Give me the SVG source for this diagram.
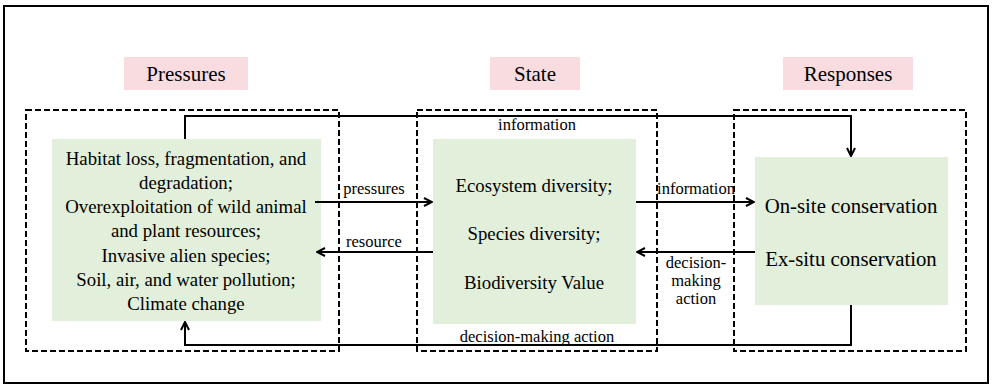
<svg xmlns="http://www.w3.org/2000/svg" width="993" height="387" viewBox="0 0 993 387">
<style>
.t{font-family:"Liberation Serif","DejaVu Serif",serif;fill:#000;text-anchor:middle}
.big{font-size:18.8px}
.lab{font-size:20.8px}
.hl{font-size:21px}
.small{font-size:16.5px}
.hdr{fill:#F8DCE0}
.green{fill:#E2EFDA}
.dash{fill:none;stroke:#000;stroke-width:2;stroke-dasharray:6 3}
.conn{fill:none;stroke:#000;stroke-width:2}
</style>
<defs>
<marker id="arr" viewBox="0 0 10 10" refX="9" refY="5" markerWidth="10" markerHeight="10" markerUnits="userSpaceOnUse" orient="auto">
<path d="M1,1 L9,5 L1,9" fill="none" stroke="#000" stroke-width="2"/>
</marker>
</defs>
<rect width="993" height="387" fill="#fff"/>
<rect x="4" y="6" width="984" height="377" fill="none" stroke="#000" stroke-width="2"/>
<g id="hdr-pressures"><rect class="hdr" x="124" y="57" width="124" height="33"/><text class="t hl" x="186" y="81">Pressures</text></g>
<g id="hdr-state"><rect class="hdr" x="490" y="57" width="90" height="33"/><text class="t hl" x="535" y="81">State</text></g>
<g id="hdr-responses"><rect class="hdr" x="783" y="57" width="130" height="33"/><text class="t hl" x="848" y="81">Responses</text></g>
<g id="group-pressures"><rect class="dash" x="26" y="110" width="313" height="241"/></g>
<g id="group-state"><rect class="dash" x="417" y="110" width="240" height="241"/></g>
<g id="group-responses"><rect class="dash" x="734" y="110" width="232" height="241"/></g>
<g id="node-pressures"><rect class="green" x="52" y="139" width="269" height="182"/>
<text class="t big" x="186" y="165">Habitat loss, fragmentation, and</text>
<text class="t big" x="186" y="189">degradation;</text>
<text class="t big" x="186" y="213">Overexploitation of wild animal</text>
<text class="t big" x="186" y="237">and plant resources;</text>
<text class="t big" x="186" y="262">Invasive alien species;</text>
<text class="t big" x="186" y="286">Soil, air, and water pollution;</text>
<text class="t big" x="186" y="310">Climate change</text>
</g>
<g id="node-state"><rect class="green" x="433" y="139" width="203" height="185"/>
<text class="t big" x="534" y="192">Ecosystem diversity;</text>
<text class="t big" x="534" y="240">Species diversity;</text>
<text class="t big" x="534" y="289">Biodiversity Value</text>
</g>
<g id="node-responses"><rect class="green" x="755" y="157" width="193" height="148"/>
<text class="t lab" x="851" y="213">On-site conservation</text>
<text class="t lab" x="851" y="266">Ex-situ conservation</text>
</g>
<g id="connectors">
<path class="conn" d="M185,139 V116 H851 V156" marker-end="url(#arr)"/>
<path class="conn" d="M851,305 V345 H185 V322" marker-end="url(#arr)"/>
<path class="conn" d="M315,202 H432" marker-end="url(#arr)"/>
<path class="conn" d="M433,252 H317" marker-end="url(#arr)"/>
<path class="conn" d="M636,202 H754" marker-end="url(#arr)"/>
<path class="conn" d="M755,252 H637" marker-end="url(#arr)"/>
<text class="t small" x="537" y="130">information</text>
<text class="t small" x="374" y="194">pressures</text>
<text class="t small" x="374" y="247">resource</text>
<text class="t small" x="696" y="194">information</text>
<text class="t small" x="696" y="268">decision-</text>
<text class="t small" x="696" y="286">making</text>
<text class="t small" x="696" y="304">action</text>
<text class="t small" x="537" y="342">decision-making action</text>
</g>
</svg>
